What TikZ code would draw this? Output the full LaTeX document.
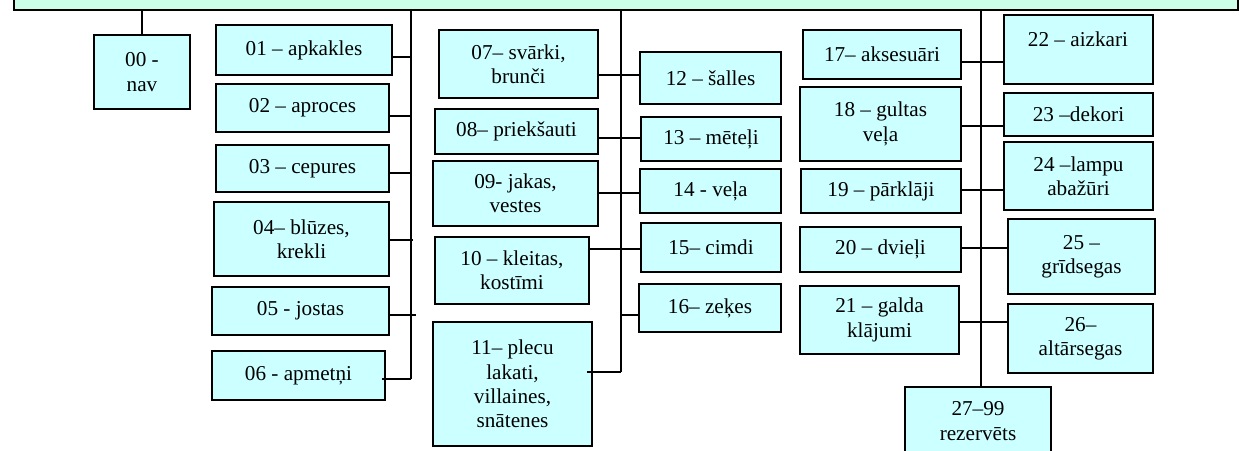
\documentclass[tikz,border=0pt]{standalone}
\usepackage{fontspec}
\setmainfont{Liberation Serif}
\definecolor{boxfill}{RGB}{204,255,255}
\definecolor{topfill}{RGB}{204,255,232}
\tikzset{
  bx/.style={draw=black, fill=boxfill, line width=0.9pt, inner sep=0pt, align=center,
    font=\fontsize{10.6}{12.2}\selectfont},
  txt/.style={inner sep=0pt, align=center, font=\fontsize{10.6}{12.2}\selectfont},
  conn/.style={line width=0.6pt},
  bus/.style={line width=0.9pt},
}
\newcommand\mkbox[6]{\node[bx, minimum width={(#4-#2)*0.5pt}, minimum height={(#5-#3)*0.5pt}] (#1) at ({(#2+#4)/2},{(#3+#5)/2}) {#6};}
\begin{document}
\begin{tikzpicture}[x=0.5pt,y=-0.5pt]
\useasboundingbox (0,0) rectangle (1240,450);
\clip (0,0) rectangle (1240,450);
% top box
\node[draw=black, fill=topfill, line width=1pt, inner sep=0pt, minimum width={(1238-13.5)*0.5pt}, minimum height={30*0.5pt}] (top) at ({(13.5+1238)/2},-5.5) {};
% boxes
\mkbox{b00}{94}{35}{190}{109}{00 -\\nav}
\mkbox{b01}{216}{25}{392}{75}{01 – apkakles}
\mkbox{b02}{216}{84}{389}{132}{02 – aproces}
\mkbox{b03}{216}{145}{389}{192}{03 – cepures}
\mkbox{b04}{214}{202}{389}{276}{04– blūzes,\\krekli}
\mkbox{b05}{212}{287}{389}{335}{05 - jostas}
\mkbox{b06}{212}{351}{385}{400}{06 - apmetņi}
\mkbox{b07}{439}{30}{598}{98}{07– svārki,\\brunči}
\mkbox{b08}{435}{109}{598}{154}{08– priekšauti}
\mkbox{b09}{433}{161}{598}{226}{09- jakas,\\vestes}
\mkbox{b10}{435}{237}{589}{304}{10 – kleitas,\\kostīmi}
\mkbox{b11}{433}{322}{592}{446}{11– plecu\\lakati,\\villaines,\\snātenes}
\mkbox{b12}{640}{52}{781}{104}{12 – šalles}
\mkbox{b13}{641}{117}{781}{161}{13 – mēteļi}
\mkbox{b14}{640}{169}{781}{213}{14 - veļa}
\mkbox{b15}{641}{223}{781}{272}{15– cimdi}
\mkbox{b16}{639}{284}{781}{332}{16– zeķes}
\mkbox{b17}{803}{30}{961}{79}{17– aksesuāri}
\mkbox{b18}{800}{87}{961}{161}{18 – gultas\\veļa}
\mkbox{b19}{801}{169}{961}{213}{19 – pārklāji}
\mkbox{b20}{800}{227}{961}{272}{20 – dvieļi}
\mkbox{b21}{800}{286}{959}{354}{21 – galda\\klājumi}
\mkbox{b22}{1004}{15}{1153}{84}{}
\node[txt] (t22) at (1078,39) {22 – aizkari};
\mkbox{b23}{1004}{93}{1153}{136}{23 –dekori}
\mkbox{b24}{1004}{142}{1153}{210}{24 –lampu\\abažūri}
\mkbox{b25}{1008}{219}{1155}{294}{25 –\\grīdsegas}
\mkbox{b26}{1008}{304}{1153}{373}{26–\\altārsegas}
\mkbox{b27}{905}{387}{1051}{475}{}
\node[txt] (t27) at (978,421) {27–99\\rezervēts};
% bus coordinates
\coordinate (lbus) at (411,379);
\coordinate (mbus) at (621,372);
\coordinate (rbus) at (981,387);
% buses
\draw[bus] (b00.north |- top.south) -- (b00.north);
\draw[bus] (lbus |- top.south) -- (lbus);
\draw[bus] (mbus |- top.south) -- (mbus);
\draw[bus] (rbus |- top.south) -- (b27.north -| rbus);
% left connectors
\draw[conn] (b01.east |- 0,57) -- (lbus |- 0,57);
\draw[conn] (b02.east |- 0,116) -- (lbus |- 0,116);
\draw[conn] (b03.east |- 0,173) -- (lbus |- 0,173);
\draw[conn] (b04.east |- 0,240) -- ([xshift=1pt]lbus |- 0,240);
\draw[conn] (b05.east |- 0,315) -- ([xshift=2.5pt]lbus |- 0,315);
\draw[conn] ([xshift=-2pt]b06.east |- 0,379) -- (lbus);
% middle connectors
\draw[conn] (b07.east |- 0,75) -- (b12.west |- 0,75);
\draw[conn] (b08.east |- 0,138) -- (b13.west |- 0,138);
\draw[conn] (b09.east |- 0,193) -- (b14.west |- 0,193);
\draw[conn] (b10.east |- 0,249) -- (b15.west |- 0,249);
\draw[conn] (mbus |- 0,315) -- (b16.west |- 0,315);
\draw[conn] ([xshift=-3pt]b11.east |- mbus) -- (mbus);
% right connectors
\draw[conn] (b17.east |- 0,62) -- (b22.west |- 0,62);
\draw[conn] (b18.east |- 0,126) -- (b23.west |- 0,126);
\draw[conn] (b19.east |- 0,190) -- (b24.west |- 0,190);
\draw[conn] (b20.east |- 0,248) -- (b25.west |- 0,248);
\draw[conn] (b21.east |- 0,322) -- (b26.west |- 0,322);
\end{tikzpicture}
\end{document}
